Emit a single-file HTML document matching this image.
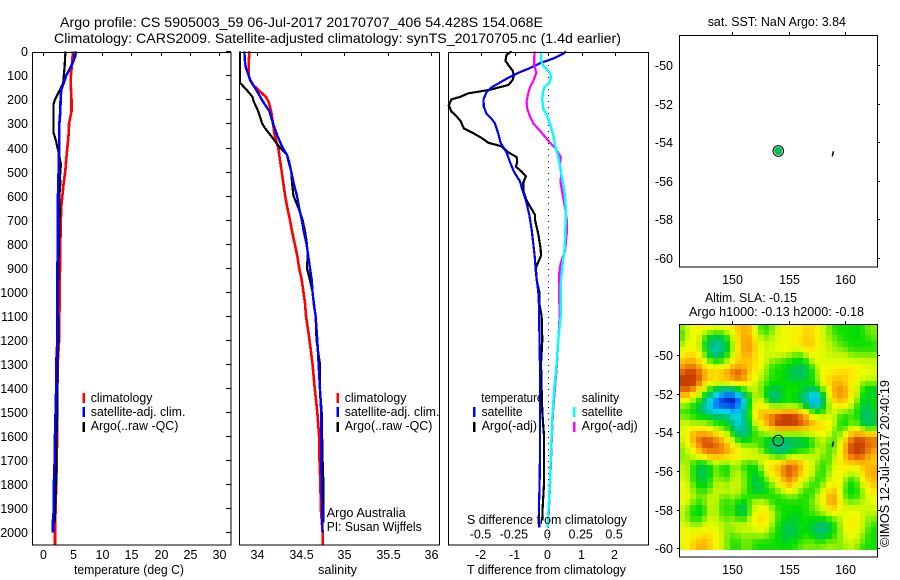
<!DOCTYPE html>
<html lang="en">
<head>
<meta charset="utf-8">
<title>Argo profile</title>
<style>
html,body{margin:0;padding:0;background:#fff;}
svg{display:block;font-family:"Liberation Sans",Arial,sans-serif;font-size:12.5px;fill:#000;}
text{fill:#000;}
</style>
</head>
<body>
<svg id="chart" width="900" height="580" viewBox="0 0 900 580" xmlns="http://www.w3.org/2000/svg">
  <rect x="0" y="0" width="900" height="580" fill="#fff"/>
  <text x="60" y="27" font-size="14" textLength="483" lengthAdjust="spacingAndGlyphs">Argo profile: CS 5905003_59 06-Jul-2017 20170707_406 54.428S 154.068E</text>
  <text x="54" y="43" font-size="14" textLength="567" lengthAdjust="spacingAndGlyphs">Climatology: CARS2009. Satellite-adjusted climatology: synTS_20170705.nc (1.4d earlier)</text>

  <g id="heatmap"></g>
  <g id="marks"></g>

  <rect x="32.5" y="52.5" width="198.5" height="492.5" fill="none" stroke="#000"/>
  <rect x="239.5" y="52.5" width="200" height="492.5" fill="none" stroke="#000"/>
  <rect x="448.5" y="52.5" width="200" height="492.5" fill="none" stroke="#000"/>
  <rect x="679.5" y="35.5" width="198" height="231.5" fill="none" stroke="#000"/>
  <rect x="679.5" y="324.5" width="198" height="232.5" fill="none" stroke="#000"/>

  <g id="ticks"></g>

  <text x="74" y="574" textLength="110" lengthAdjust="spacingAndGlyphs">temperature (deg C)</text>
  <text x="318" y="574" textLength="39" lengthAdjust="spacingAndGlyphs">salinity</text>
  <text x="467" y="574" textLength="159" lengthAdjust="spacingAndGlyphs">T difference from climatology</text>
  <text x="467" y="524" textLength="160" lengthAdjust="spacingAndGlyphs">S difference from climatology</text>

  <g>
    <rect x="82.5" y="393" width="2.5" height="10" fill="#f00"/>
    <rect x="82.5" y="407" width="2.5" height="10" fill="#00f"/>
    <rect x="82.5" y="422" width="2.5" height="10" fill="#000"/>
    <text x="90.7" y="402" textLength="61.7" lengthAdjust="spacingAndGlyphs">climatology</text>
    <text x="90.7" y="416" textLength="94.7" lengthAdjust="spacingAndGlyphs">satellite-adj. clim.</text>
    <text x="90.7" y="430" textLength="87.7" lengthAdjust="spacingAndGlyphs">Argo(..raw -QC)</text>
  </g>
  <g>
    <rect x="336.5" y="393" width="2.5" height="10" fill="#f00"/>
    <rect x="336.5" y="407" width="2.5" height="10" fill="#00f"/>
    <rect x="336.5" y="422" width="2.5" height="10" fill="#000"/>
    <text x="344.7" y="402" textLength="61.7" lengthAdjust="spacingAndGlyphs">climatology</text>
    <text x="344.7" y="416" textLength="94.7" lengthAdjust="spacingAndGlyphs">satellite-adj. clim.</text>
    <text x="344.7" y="430" textLength="87.7" lengthAdjust="spacingAndGlyphs">Argo(..raw -QC)</text>
  </g>
  <g>
    <text x="481.3" y="402" textLength="62" lengthAdjust="spacingAndGlyphs">temperature</text>
    <rect x="473" y="407" width="2.5" height="10" fill="#00f"/>
    <rect x="473" y="422" width="2.5" height="10" fill="#000"/>
    <text x="481.6" y="416" textLength="41" lengthAdjust="spacingAndGlyphs">satellite</text>
    <text x="481.6" y="430" textLength="55.5" lengthAdjust="spacingAndGlyphs">Argo(-adj)</text>
    <text x="581.7" y="402" textLength="37.5" lengthAdjust="spacingAndGlyphs">salinity</text>
    <rect x="573" y="407" width="2.5" height="10" fill="#0ff"/>
    <rect x="573" y="422" width="2.5" height="10" fill="#f0f"/>
    <text x="581.7" y="416" textLength="41" lengthAdjust="spacingAndGlyphs">satellite</text>
    <text x="581.7" y="430" textLength="56" lengthAdjust="spacingAndGlyphs">Argo(-adj)</text>
  </g>

  <text x="326.7" y="517" textLength="79" lengthAdjust="spacingAndGlyphs">Argo Australia</text>
  <text x="326.7" y="531" textLength="95" lengthAdjust="spacingAndGlyphs">PI: Susan Wijffels</text>

  <text x="707.7" y="26" textLength="138.3" lengthAdjust="spacingAndGlyphs">sat. SST: NaN Argo: 3.84</text>
  <text x="705" y="302" textLength="92" lengthAdjust="spacingAndGlyphs">Altim. SLA: -0.15</text>
  <text x="689" y="316" textLength="175" lengthAdjust="spacingAndGlyphs">Argo h1000: -0.13 h2000: -0.18</text>
  <text transform="translate(889,547) rotate(-90)" x="0" y="0" textLength="167" lengthAdjust="spacingAndGlyphs">©IMOS 12-Jul-2017 20:40:19</text>
</svg>

<script>
/* ---------- depth axis ---------- */
const depthTicks = [0,100,200,300,400,500,600,700,800,900,1000,1100,1200,1300,1400,1500,1600,1700,1800,1900,2000];

/* ---------- temperature panel ---------- */
const tempTicks = [0,5,10,15,20,25,30];
const tempClimDepth = [0,50,100,150,200,250,300,350,400,450,500,550,600,650,700,800,900,1000,1100,1200,1300,1400,1500,1600,1700,1800,1900,2000,2050];
const tempClimValue = [5.05,4.9,4.7,4.7,4.8,4.8,4.4,4.3,4.1,3.9,3.75,3.45,3.25,3.05,3.0,2.9,2.85,2.8,2.75,2.7,2.45,2.4,2.4,2.35,2.3,2.2,2.1,2.0,2.0];
const tempSatDepth = [0,20,50,80,100,130,160,200,250,300,400,500,600,700,800,900,1000,1100,1200,1300,1400,1500,1600,1700,1800,1900,1950,2000];
const tempSatValue = [5.55,5.45,4.95,4.4,3.9,3.5,3.05,2.95,2.9,2.75,2.7,2.6,2.5,2.5,2.5,2.4,2.35,2.4,2.4,2.2,2.2,2.1,2.0,1.95,1.8,1.8,1.65,1.65];
const tempArgoDepth = [0,30,60,100,130,160,180,200,220,300,340,370,400,430,470,520,550,600,680,700,800,900,1000,1200,1300,1500,1600,1700,1800,1900,1960];
const tempArgoValue = [3.8,3.7,3.65,3.5,3.4,2.85,2.4,2.0,1.75,1.75,1.75,2.15,2.4,2.7,3.0,2.85,2.9,2.75,2.85,2.75,2.7,2.55,2.5,2.55,2.4,2.4,2.25,2.2,2.2,2.0,2.0];

/* ---------- salinity panel ---------- */
const salTicks = [34,34.5,35,35.5,36];
const salClimDepth = [0,50,100,120,140,160,190,210,250,300,350,400,450,500,550,600,650,700,750,800,850,900,950,1000,1050,1100,1200,1300,1400,1500,1600,1700,1800,1900,2000,2050];
const salClimValue = [33.91,33.9,33.9,33.92,33.95,34.01,34.1,34.13,34.16,34.18,34.2,34.24,34.26,34.28,34.3,34.32,34.345,34.375,34.4,34.43,34.46,34.48,34.51,34.53,34.55,34.56,34.6,34.635,34.66,34.69,34.71,34.715,34.725,34.73,34.75,34.75];
const salSatDepth = [0,50,70,100,120,150,180,200,250,300,350,400,430,460,500,550,600,650,700,750,800,850,900,950,1000,1050,1100,1200,1300,1400,1500,1600,1700,1800,1900,2000];
const salSatValue = [33.85,33.86,33.87,33.9,33.92,33.97,34.02,34.05,34.14,34.18,34.23,34.29,34.34,34.365,34.39,34.42,34.455,34.48,34.51,34.535,34.565,34.585,34.605,34.625,34.635,34.65,34.67,34.69,34.705,34.72,34.735,34.735,34.735,34.74,34.745,34.75];
const salArgoDepth = [0,50,100,130,150,170,190,210,240,270,300,320,350,370,400,430,460,500,550,600,650,700,750,800,850,900,950,1000,1100,1200,1300,1400,1500,1600,1700,1800,1900,1960];
const salArgoValue = [33.8,33.8,33.8,33.8,33.85,33.9,33.945,33.96,34.0,34.03,34.055,34.09,34.155,34.195,34.26,34.34,34.36,34.39,34.4,34.415,34.47,34.52,34.55,34.57,34.58,34.57,34.605,34.635,34.67,34.68,34.72,34.72,34.74,34.745,34.75,34.76,34.76,34.76];

/* ---------- difference panel ---------- */
const tDiffTicks = [-2,-1,0,1,2];
const sDiffTicks = [-0.5,-0.25,0,0.25,0.5];
const sDiffTickLabels = ["-0.5","-0.25","0","0.25","0.5"];
const tDiffArgoDepth = [0,15,40,60,80,100,120,140,160,175,190,200,225,250,270,290,320,340,360,380,395,420,440,460,480,500,520,545,580,620,680,700,760,820,850,900,950,1000,1050,1100,1200,1300,1400,1500,1600,1700,1800,1900,1950];
const tDiffArgoValue = [-1.1,-1.25,-1.28,-1.18,-1.07,-1.03,-1.07,-1.2,-1.75,-2.4,-2.65,-2.9,-2.98,-2.9,-2.75,-2.63,-2.53,-2.25,-2,-1.8,-1.4,-1.2,-0.95,-0.93,-0.97,-0.8,-0.67,-0.75,-0.75,-0.65,-0.4,-0.4,-0.3,-0.23,-0.22,-0.37,-0.35,-0.27,-0.27,-0.2,-0.18,-0.22,-0.2,-0.18,-0.13,-0.13,-0.13,-0.17,-0.17];
const tDiffSatDepth = [0,10,30,50,70,90,110,130,150,170,200,230,260,280,300,340,380,420,460,500,540,580,620,680,740,800,860,920,1000,1050,1100,1200,1300,1500,1700,1800,1900,1980];
const tDiffSatValue = [0.53,0.45,0.15,-0.25,-0.55,-0.9,-1.2,-1.45,-1.7,-1.85,-1.94,-1.93,-1.85,-1.7,-1.6,-1.5,-1.43,-1.25,-1.15,-1.03,-0.85,-0.77,-0.67,-0.57,-0.5,-0.45,-0.4,-0.37,-0.3,-0.28,-0.28,-0.26,-0.25,-0.25,-0.25,-0.26,-0.28,-0.27];
const sDiffArgoDepth = [0,20,60,90,120,150,180,210,240,270,300,330,360,380,400,440,470,500,550,600,650,700,760,830,880,920,1000,1100,1200,1300,1400,1500,1600,1700,1800,1900,1980];
const sDiffArgoValue = [-0.1,-0.105,-0.105,-0.09,-0.11,-0.1375,-0.1525,-0.1625,-0.1575,-0.1375,-0.1125,-0.0625,-0.0175,0.0125,0.05,0.0925,0.0875,0.095,0.0925,0.1075,0.125,0.1375,0.1375,0.125,0.0925,0.0825,0.08,0.085,0.075,0.065,0.05,0.035,0.027,0.02,0.0135,0.005,-0.003];
const sDiffSatDepth = [0,20,40,60,90,110,130,150,170,200,240,270,310,350,400,440,480,520,570,620,680,750,820,880,950,1050,1100,1200,1300,1400,1500,1600,1700,1800,1900,1980];
const sDiffSatValue = [-0.055,-0.055,-0.055,-0.0375,0.0125,0.02,0.0075,-0.03,-0.04,-0.045,-0.0375,-0.0075,0.0175,0.0375,0.055,0.075,0.0875,0.1,0.1175,0.1275,0.1325,0.1275,0.1225,0.1075,0.095,0.0925,0.0925,0.075,0.0625,0.045,0.0325,0.025,0.0175,0.0125,0.0025,-0.005];

/* ---------- map panels ---------- */
const lonTicks = [150,155,160];
const latTicks = [-50,-52,-54,-56,-58,-60];
const argoLon = [154.068];
const argoLat = [-54.428];
const trackLon = [158.85,158.95];
const trackLat = [-54.74,-54.48];

/* SLA colour level per grid cell (0 = deep blue, 6 = green, 10 = yellow, 14 = red-orange) */
const slaRow00 = [7,8,9,9,9,9,9,9,9,10,10,11,11,8,6,6,7,8,9,9,9,9,10,10,9,8,7,6,6,6,6,6,6,7,7];
const slaRow01 = [6,8,9,9,8,7,6,6,7,9,10,11,11,9,6,6,7,8,9,9,9,9,10,10,9,8,7,6,6,6,6,5,6,7,7];
const slaRow02 = [6,8,9,8,6,5,5,5,6,8,10,11,11,10,7,7,8,8,9,9,9,10,10,10,9,8,7,7,6,6,6,6,6,6,7];
const slaRow03 = [7,9,9,8,6,4,4,4,5,7,10,11,12,10,8,8,8,8,9,9,9,10,10,11,9,8,8,7,7,6,6,6,6,6,6];
const slaRow04 = [8,9,9,8,6,4,3,4,5,7,10,11,12,10,8,8,8,9,9,9,8,8,10,10,9,8,8,7,7,7,6,6,6,6,6];
const slaRow05 = [9,10,10,9,7,5,4,5,6,8,10,11,11,10,8,8,8,8,8,7,7,6,7,9,9,8,8,8,8,8,7,7,7,7,7];
const slaRow06 = [10,11,11,10,8,6,6,6,7,9,10,10,10,10,9,8,7,7,6,6,6,5,6,8,9,8,8,8,8,8,8,8,8,8,8];
const slaRow07 = [11,12,12,11,10,9,8,8,9,11,11,11,10,10,9,7,6,6,6,6,5,5,5,6,8,9,9,9,9,9,9,9,8,8,8];
const slaRow08 = [12,13,13,12,11,10,10,11,11,12,13,12,10,9,8,7,6,6,6,5,5,4,5,6,7,9,9,10,10,10,10,9,9,9,8];
const slaRow09 = [13,14,14,13,11,10,10,11,11,12,13,12,10,8,8,7,6,6,6,5,5,5,5,6,7,9,10,10,10,10,10,9,8,8,8];
const slaRow10 = [13,14,13,12,10,9,8,8,8,9,9,10,9,8,7,6,6,6,6,6,6,6,6,6,7,9,10,11,11,10,9,8,7,7,7];
const slaRow11 = [12,13,12,10,8,6,5,4,4,4,5,6,8,8,7,6,5,5,6,6,6,6,5,5,5,7,9,11,12,11,10,8,6,5,5];
const slaRow12 = [11,11,10,7,6,4,3,2,2,1,3,4,6,8,7,5,4,4,6,6,6,5,4,3,2,5,9,11,12,11,10,7,6,5,6];
const slaRow13 = [9,8,7,6,5,3,2,1,1,0,1,3,5,8,9,6,4,5,6,6,6,5,4,2,2,4,8,10,11,10,9,7,6,5,6];
const slaRow14 = [7,7,6,5,4,2,2,1,2,1,2,4,5,9,10,8,7,6,6,6,6,6,5,3,3,5,8,9,10,9,8,6,5,5,6];
const slaRow15 = [6,6,6,5,4,4,3,3,4,2,3,4,6,9,11,10,11,11,12,12,12,11,9,6,5,6,7,8,7,6,7,6,5,4,6];
const slaRow16 = [7,7,6,6,6,5,5,5,5,3,3,4,6,9,11,11,12,13,13,14,13,12,12,10,8,8,9,8,6,6,7,6,5,4,6];
const slaRow17 = [8,8,7,7,7,7,6,6,6,4,3,4,5,8,10,11,12,14,14,14,13,13,12,11,10,9,9,8,6,5,7,7,5,4,5];
const slaRow18 = [8,9,9,9,10,8,7,7,6,5,3,4,5,7,8,9,11,12,12,12,12,12,11,10,10,11,9,7,6,6,8,8,6,5,6];
const slaRow19 = [8,9,11,12,11,11,10,9,8,6,4,4,5,6,7,7,7,6,6,6,6,6,7,8,8,9,8,6,7,9,11,12,12,11,11];
const slaRow20 = [8,9,11,12,13,13,12,11,10,8,6,5,6,7,6,6,5,5,5,5,5,5,5,6,7,8,7,6,8,10,12,13,13,12,12];
const slaRow21 = [7,8,10,12,13,13,12,12,11,9,8,7,7,7,6,5,4,4,4,4,5,5,5,6,7,8,6,6,9,11,13,14,13,12,12];
const slaRow22 = [7,8,9,10,12,12,12,12,11,10,9,8,8,8,7,6,5,4,4,5,6,6,6,7,8,8,6,7,9,11,13,14,13,12,11];
const slaRow23 = [7,7,8,9,10,11,11,11,11,10,10,9,9,9,8,8,7,6,6,7,8,8,8,8,8,7,6,8,9,11,12,13,12,11,10];
const slaRow24 = [7,8,6,5,5,6,8,6,6,8,7,6,6,6,8,10,10,10,11,12,12,11,9,8,7,6,6,8,9,10,10,10,11,10,10];
const slaRow25 = [8,8,6,5,5,5,8,6,5,8,7,6,6,5,7,9,10,10,12,13,12,11,10,8,7,6,7,9,9,10,9,9,10,11,11];
const slaRow26 = [8,8,6,5,5,5,8,6,5,8,8,7,6,5,6,8,9,10,12,13,12,10,9,8,6,6,7,9,9,8,7,8,10,11,11];
const slaRow27 = [8,8,6,5,5,6,8,7,6,8,8,7,6,5,5,7,8,9,11,12,11,9,8,7,6,6,8,9,9,7,6,6,9,10,11];
const slaRow28 = [9,8,7,6,5,6,8,8,7,8,8,7,6,5,5,6,7,8,10,11,10,8,7,6,6,7,9,10,9,6,6,6,8,10,10];
const slaRow29 = [9,8,7,6,6,7,8,8,8,8,8,7,6,5,5,6,6,7,8,9,8,7,6,6,7,8,10,11,8,6,5,6,7,9,10];
const slaRow30 = [9,9,8,7,7,8,8,7,6,8,7,6,6,6,6,6,6,6,6,7,7,6,6,6,8,9,11,12,9,6,6,6,7,8,9];
const slaRow31 = [9,8,7,6,7,8,8,6,6,7,6,5,7,8,8,7,6,6,6,6,6,6,6,7,8,9,11,12,9,7,7,7,8,8,9];
const slaRow32 = [8,7,6,5,6,8,8,6,6,7,5,4,7,8,9,9,7,6,6,6,6,6,6,7,7,8,10,11,9,8,8,8,8,8,8];
const slaRow33 = [8,7,6,5,6,8,8,6,6,7,5,4,7,8,10,10,8,6,6,6,5,6,6,6,7,7,8,9,8,8,9,9,8,7,8];
const slaRow34 = [8,7,6,6,7,8,8,7,6,8,6,6,8,9,10,10,8,6,6,6,5,6,6,6,6,6,6,7,7,9,9,9,8,7,7];
const slaRow35 = [8,8,7,7,8,9,8,8,7,8,8,8,8,9,10,9,7,6,5,5,5,6,6,5,5,4,5,6,7,9,10,9,8,7,6];
const slaRow36 = [9,9,8,8,9,9,8,8,7,7,8,8,8,8,9,8,7,6,5,5,5,6,6,5,4,4,5,6,7,9,9,9,8,6,6];
const slaRow37 = [9,9,9,10,10,10,9,8,7,6,7,7,7,7,7,7,6,6,5,5,5,6,6,6,5,5,6,6,7,8,9,8,7,6,6];
const slaRow38 = [8,9,10,10,11,10,9,8,7,6,6,7,7,6,6,6,6,6,5,6,6,6,7,7,6,6,7,7,7,8,8,8,7,6,6];
const slaRow39 = [8,9,10,11,11,10,9,8,7,6,6,7,7,6,6,6,6,6,6,6,6,7,7,7,7,7,8,7,7,7,8,7,6,6,6];
const slaGrid = [slaRow00,slaRow01,slaRow02,slaRow03,slaRow04,slaRow05,slaRow06,slaRow07,slaRow08,slaRow09,slaRow10,slaRow11,slaRow12,slaRow13,slaRow14,slaRow15,slaRow16,slaRow17,slaRow18,slaRow19,slaRow20,slaRow21,slaRow22,slaRow23,slaRow24,slaRow25,slaRow26,slaRow27,slaRow28,slaRow29,slaRow30,slaRow31,slaRow32,slaRow33,slaRow34,slaRow35,slaRow36,slaRow37,slaRow38,slaRow39];

/* ---------- scales ---------- */
const NS = 'http://www.w3.org/2000/svg';
function yDepth(d){ return 51.3 + d * 0.2405; }
function xTemp(t){ return 43.3 + t * 5.87; }
function xSal(s){ return 257.3 + (s - 34) * 87; }
function xTDiff(t){ return 548.3 + t * 33.4; }
function xSDiff(s){ return 548.3 + s * 133.6; }
function xLon(lon){ return 732.3 + (lon - 150) * 11.3; }
function yLatSst(lat){ return 65 + (-50 - lat) * 19.26; }
function yLatSla(lat){ return 355 + (-50 - lat) * 19.33; }

const marks = document.getElementById('marks');
const ticksG = document.getElementById('ticks');
const heatG = document.getElementById('heatmap');

function drawLine(depths, values, xFn, color, width, name){
  const pts = depths.map(function(d,i){ return xFn(values[i]).toFixed(1) + ',' + yDepth(d).toFixed(1); }).join(' ');
  const el = document.createElementNS(NS,'polyline');
  
  
  el.setAttribute('points', pts);
  el.setAttribute('fill', 'none');
  el.setAttribute('stroke', color);
  el.setAttribute('stroke-width', width);
  el.setAttribute('shape-rendering', 'crispEdges');
  marks.appendChild(el);
}

function tickLine(x1,y1,x2,y2){
  const el = document.createElementNS(NS,'line');
  
  
  el.setAttribute('x1', x1);
  el.setAttribute('y1', y1);
  el.setAttribute('x2', x2);
  el.setAttribute('y2', y2);
  el.setAttribute('stroke', '#000');
  el.setAttribute('shape-rendering', 'crispEdges');
  ticksG.appendChild(el);
}

function tickText(x,y,label,anchor){
  const el = document.createElementNS(NS,'text');
  
  
  el.setAttribute('x', x);
  el.setAttribute('y', y);
  el.setAttribute('text-anchor', anchor);
  el.textContent = label;
  ticksG.appendChild(el);
}

/* ---------- heatmap ---------- */
const colorStops = [[0,0,140],[0,60,235],[0,150,245],[0,215,235],[0,195,150],[0,195,90],[0,222,0],[100,235,0],[190,245,0],[235,255,0],[255,235,0],[255,195,0],[248,160,0],[232,110,0],[200,65,0]];
function levelColor(v){
  const c = Math.max(0, Math.min(colorStops.length - 1, v));
  const i = Math.min(colorStops.length - 2, Math.floor(c));
  const f = c - i;
  const p = colorStops[i].map(function(a,k){ return Math.round(a + (colorStops[i+1][k] - a) * f); });
  return 'rgb(' + p.join(',') + ')';
}
function cellAt(r,c){
  const rr = Math.max(0, Math.min(slaGrid.length - 1, r));
  const row = slaGrid[rr];
  return row[Math.max(0, Math.min(row.length - 1, c))];
}
/* the source field is smooth: apply a 1-2-1 kernel to the read levels when displaying them */
function displayLevel(r,c){
  const w = [1,2,1];
  let sum = 0;
  for (let i = -1; i <= 1; i++) {
    for (let j = -1; j <= 1; j++) {
      sum += w[i+1] * w[j+1] * cellAt(r+i, c+j);
    }
  }
  return 8.4 + (sum / 16 - 8) * 1.12;
}
const gridLon0 = 145.28, gridDLon = 0.5, gridLat0 = -48.4, gridDLat = -0.2923;
slaGrid.forEach(function(row, r){
  row.forEach(function(v, c){
    const x0 = Math.round(xLon(gridLon0 + c * gridDLon));
    const x1 = Math.round(xLon(gridLon0 + (c + 1) * gridDLon));
    const y0 = Math.round(yLatSla(gridLat0 + r * gridDLat));
    const y1 = Math.round(yLatSla(gridLat0 + (r + 1) * gridDLat));
    const el = document.createElementNS(NS,'rect');
    
    
    el.setAttribute('x', x0);
    el.setAttribute('y', y0);
    el.setAttribute('width', x1 - x0);
    el.setAttribute('height', y1 - y0);
    el.setAttribute('fill', levelColor(displayLevel(r, c)));
    heatG.appendChild(el);
  });
});

/* ---------- zero line ---------- */
const zeroLine = document.createElementNS(NS,'line');


zeroLine.setAttribute('x1', Math.round(xTDiff(0)) + 0.5);
zeroLine.setAttribute('x2', Math.round(xTDiff(0)) + 0.5);
zeroLine.setAttribute('y1', 53);
zeroLine.setAttribute('y2', 545);
zeroLine.setAttribute('stroke', '#000');
zeroLine.setAttribute('stroke-dasharray', '1 5');
marks.appendChild(zeroLine);

/* ---------- profile lines ---------- */
drawLine(tempClimDepth, tempClimValue, xTemp, '#f00', 2.6, 'temperature-climatology-line');
drawLine(tempArgoDepth, tempArgoValue, xTemp, '#000', 2.2, 'temperature-argo-line');
drawLine(tempSatDepth, tempSatValue, xTemp, '#00f', 2.6, 'temperature-satellite-line');

drawLine(salClimDepth, salClimValue, xSal, '#f00', 2.6, 'salinity-climatology-line');
drawLine(salArgoDepth, salArgoValue, xSal, '#000', 2.2, 'salinity-argo-line');
drawLine(salSatDepth, salSatValue, xSal, '#00f', 2.4, 'salinity-satellite-line');

drawLine(tDiffArgoDepth, tDiffArgoValue, xTDiff, '#000', 2.2, 't-difference-argo-line');
drawLine(tDiffSatDepth, tDiffSatValue, xTDiff, '#00f', 2.2, 't-difference-satellite-line');
drawLine(sDiffArgoDepth, sDiffArgoValue, xSDiff, '#f0f', 2.2, 's-difference-argo-line');
drawLine(sDiffSatDepth, sDiffSatValue, xSDiff, '#0ff', 2.4, 's-difference-satellite-line');

/* ---------- ticks ---------- */
depthTicks.forEach(function(d){
  const y = Math.round(yDepth(d)) + 0.5;
  tickLine(226, y, 231, y);
  tickText(28, y + 4.5, String(d), 'end');
});
tempTicks.forEach(function(t){
  const x = Math.round(xTemp(t)) + 0.5;
  tickLine(x, 52, x, 56);
  tickText(x, 559, String(t), 'middle');
});
salTicks.forEach(function(s){
  const x = Math.round(xSal(s)) + 0.5;
  tickLine(x, 52, x, 56);
  tickText(x, 559, String(s), 'middle');
});
tDiffTicks.forEach(function(t){
  const x = Math.round(xTDiff(t)) + 0.5;
  tickLine(x, 52, x, 56);
  tickText(x - 1, 559, String(t), 'middle');
});
sDiffTicks.forEach(function(s, i){
  tickText(xSDiff(s) - 1, 538.7, sDiffTickLabels[i], 'middle');
});
lonTicks.forEach(function(lon){
  const x = Math.round(xLon(lon)) + 0.5;
  tickLine(x, 32, x, 35);
  tickLine(x, 321, x, 324);
  tickText(x, 284, String(lon), 'middle');
  tickText(x, 574, String(lon), 'middle');
});
latTicks.forEach(function(lat){
  const y1 = Math.round(yLatSst(lat)) + 0.5;
  tickLine(878, y1, 880, y1);
  tickText(673, y1 + 4.5, String(lat), 'end');
  const y2 = Math.round(yLatSla(lat)) + 0.5;
  tickLine(677, y2, 679, y2);
  tickLine(878, y2, 880, y2);
  tickText(673, y2 + 4.5, String(lat), 'end');
});

/* ---------- map markers ---------- */
argoLon.forEach(function(lon, i){
  const fillDot = document.createElementNS(NS,'circle');
  
  
  fillDot.setAttribute('cx', xLon(lon));
  fillDot.setAttribute('cy', yLatSst(argoLat[i]) + 0.7);
  fillDot.setAttribute('r', 4.2);
  fillDot.setAttribute('fill', '#00c060');
  marks.appendChild(fillDot);

  const sstRing = document.createElementNS(NS,'circle');
  
  
  sstRing.setAttribute('cx', xLon(lon));
  sstRing.setAttribute('cy', yLatSst(argoLat[i]) + 0.7);
  sstRing.setAttribute('r', 5.3);
  sstRing.setAttribute('fill', 'none');
  sstRing.setAttribute('stroke', '#000');
  sstRing.setAttribute('stroke-width', 1);
  marks.appendChild(sstRing);

  const ring = document.createElementNS(NS,'circle');
  
  
  ring.setAttribute('cx', xLon(lon));
  ring.setAttribute('cy', yLatSla(argoLat[i]));
  ring.setAttribute('r', 5.3);
  ring.setAttribute('fill', 'none');
  ring.setAttribute('stroke', '#000');
  ring.setAttribute('stroke-width', 1);
  marks.appendChild(ring);
});

const trackSst = document.createElementNS(NS,'polyline');


trackSst.setAttribute('points', trackLon.map(function(l,i){ return xLon(l).toFixed(1) + ',' + yLatSst(trackLat[i]).toFixed(1); }).join(' '));
trackSst.setAttribute('fill', 'none');
trackSst.setAttribute('stroke', '#000');
trackSst.setAttribute('stroke-width', 1.5);
marks.appendChild(trackSst);

const trackSla = document.createElementNS(NS,'polyline');


trackSla.setAttribute('points', trackLon.map(function(l,i){ return xLon(l).toFixed(1) + ',' + yLatSla(trackLat[i]).toFixed(1); }).join(' '));
trackSla.setAttribute('fill', 'none');
trackSla.setAttribute('stroke', '#000');
trackSla.setAttribute('stroke-width', 1.5);
marks.appendChild(trackSla);
</script>
</body>
</html>
